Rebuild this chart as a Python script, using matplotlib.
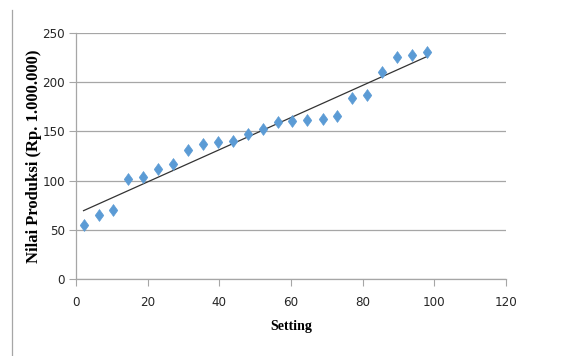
import numpy as np
import matplotlib
matplotlib.use("Agg")
import matplotlib.pyplot as plt
from matplotlib.lines import Line2D
from matplotlib import font_manager

setting = [2.1, 6.3, 10.4, 14.6, 18.8, 22.9, 27.1, 31.3, 35.4, 39.6, 43.8, 47.9,
           52.1, 56.3, 60.4, 64.6, 68.8, 72.9, 77.1, 81.3, 85.4, 89.6, 93.8, 97.9]
nilai = [54.5, 64.6, 70.0, 101.5, 103.5, 111.6, 116.4, 130.6, 137.0, 139.7, 140.4, 147.5,
         152.6, 159.3, 160.7, 162.0, 162.4, 165.8, 184.4, 187.0, 210.4, 225.6, 228.0, 230.7]
x_ticks = [0, 20, 40, 60, 80, 100, 120]
y_ticks = [0, 50, 100, 150, 200, 250]

# prefer a narrow sans for tick numbers when one is available
tick_props = dict(family="Lato", size=9.8)
for f in font_manager.fontManager.ttflist:
    if f.name == "DejaVu Sans" and "ondensed" in str(f.stretch) and f.weight in (400, "normal"):
        tick_props = dict(family="DejaVu Sans", stretch="condensed", size=9.5)
        break
label_font = ["Liberation Serif", "DejaVu Serif"]

fig = plt.figure(figsize=(5.87, 3.56), dpi=100)
ax = fig.add_axes([0.1295, 0.2163, 0.862 - 0.1295, 0.9073 - 0.2163])

ax.set_xlim(0, 120)
ax.set_ylim(0, 250)
ax.set_xticks(x_ticks)
ax.set_yticks(y_ticks)

ax.yaxis.grid(True, color="#a6a6a6", linewidth=0.9)
ax.set_axisbelow(True)
for side in ("top", "right"):
    ax.spines[side].set_visible(False)
for side in ("left", "bottom"):
    ax.spines[side].set_color("#a6a6a6")
    ax.spines[side].set_linewidth(0.9)
ax.tick_params(axis="x", direction="out", length=5, color="#a6a6a6", pad=7)
ax.tick_params(axis="y", direction="out", length=5, color="#a6a6a6", pad=3)
for lab in ax.get_xticklabels() + ax.get_yticklabels():
    lab.set(**tick_props)
    lab.set_color("#262626")

# tall diamond marker
diamond = [(0, 1), (0.72, 0), (0, -1), (-0.72, 0), (0, 1)]
ax.plot(setting, nilai, linestyle="none", marker=diamond, markersize=8.5,
        color="#5b9bd5", markeredgecolor="#5b9bd5", markeredgewidth=0.5, zorder=3)

# linear trendline
coef = np.polyfit(setting, nilai, 1)
xs = np.array([setting[0], setting[-1]])
ax.plot(xs, np.polyval(coef, xs), color="#333333", linewidth=0.9, zorder=2)

ax.set_xlabel("Setting", family=label_font, fontweight="bold", fontsize=10, labelpad=8)
ax.set_ylabel("Nilai Produksi (Rp. 1.000.000)", family=label_font, fontweight="bold",
              fontsize=12)
ax.yaxis.set_label_coords(-0.08, 0.5)

fig.add_artist(Line2D([12 / 587, 12 / 587], [0.0, 1 - 10 / 356],
                      transform=fig.transFigure, color="#a6a6a6", linewidth=0.9))

fig.savefig("out.png", dpi=100)
